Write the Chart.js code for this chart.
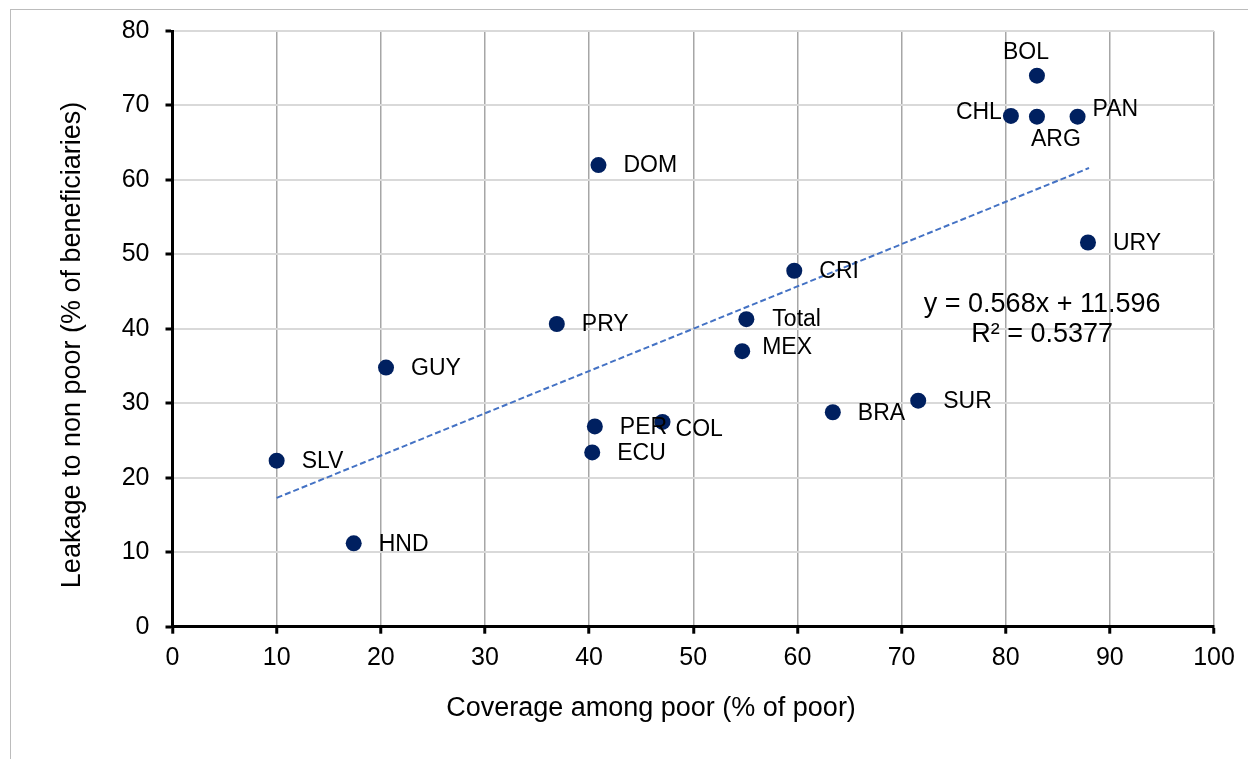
<!DOCTYPE html>
<html lang="en">
<head>
<meta charset="UTF-8">
<title>Coverage vs leakage</title>
<script src="https://cdn.jsdelivr.net/npm/chart.js"></script>
<style>
    html, body {
        margin: 0;
        padding: 0;
        background: #fff;
        overflow: hidden;
    }
    .frame {
        position: absolute;
        left: 10px;
        top: 9px;
        width: 1300px;
        height: 800px;
        border: 1.5px solid #bcbcbc;
    }
    .chart-box {
        position: absolute;
        left: 0;
        top: 0;
        width: 1248px;
        height: 759px;
    }
</style>
</head>
<body>
<div class="frame"></div>
<div class="chart-box">
    <canvas id="scatterChart" width="1248" height="759"></canvas>
</div>

<script>
    // data
    const countries = ['SLV', 'HND', 'GUY', 'PRY', 'DOM', 'PER', 'ECU', 'COL', 'MEX', 'Total',
                       'CRI', 'BRA', 'SUR', 'URY', 'CHL', 'ARG', 'PAN', 'BOL'];
    const coverage  = [10.0, 17.4, 20.5, 36.9, 40.9, 40.55, 40.3, 47.05, 54.7, 55.1,
                       59.7, 63.4, 71.6, 87.9, 80.5, 83.0, 86.9, 83.0];
    const leakage   = [22.3, 11.2, 34.8, 40.65, 62.0, 26.9, 23.4, 27.5, 37.0, 41.3,
                       47.8, 28.8, 30.35, 51.6, 68.6, 68.5, 68.5, 74.0];

    // linear trend, as drawn (end points)
    const trendX = [10, 88];
    const trendY = [17.3, 61.6];
    const trendText = ['y = 0.568x + 11.596', 'R² = 0.5377'];

    const xTickValues = [0, 10, 20, 30, 40, 50, 60, 70, 80, 90, 100];
    const yTickValues = [0, 10, 20, 30, 40, 50, 60, 70, 80];

    const xTitle = 'Coverage among poor (% of poor)';
    const yTitle = 'Leakage to non poor (% of beneficiaries)';

    // label placement next to each dot (pixels)
    const labelPlace = {
        _default: { dx: 25, dy: 1, align: 'left' },
        COL:   { dx: 13, dy: 8, align: 'left' },
        MEX:   { dx: 20, dy: -4, align: 'left' },
        Total: { dx: 26, dy: 0, align: 'left' },
        CHL:   { dx: -9, dy: -3, align: 'right' },
        ARG:   { dx: 19, dy: 23, align: 'center' },
        PAN:   { dx: 15, dy: -7, align: 'left' },
        BOL:   { dx: -11, dy: -23, align: 'center' }
    };

    const FONT = '"Liberation Sans", Arial, sans-serif';
    Chart.defaults.font.family = FONT;
    Chart.defaults.color = '#000';

    const labelsPlugin = {
        id: 'pointLabels',
        afterDatasetsDraw(chart) {
            const ctx = chart.ctx;
            const meta = chart.getDatasetMeta(0);
            ctx.save();
            ctx.fillStyle = '#000';
            ctx.font = '23px ' + FONT;
            ctx.textBaseline = 'middle';
            meta.data.forEach((pt, i) => {
                const name = countries[i];
                const p = labelPlace[name] || labelPlace._default;
                ctx.textAlign = p.align;
                ctx.fillText(name, pt.x + p.dx, pt.y + p.dy);
            });

            // trend equation
            const xs = chart.scales.x, ys = chart.scales.y;
            ctx.font = '27px ' + FONT;
            ctx.textAlign = 'center';
            ctx.fillText(trendText[0], xs.getPixelForValue(83.5), ys.getPixelForValue(43.2));
            ctx.fillText(trendText[1], xs.getPixelForValue(83.5), ys.getPixelForValue(39.2));

            // axis titles
            ctx.font = '27px ' + FONT;
            ctx.fillText(xTitle, 651, 709);
            ctx.translate(73, 345);
            ctx.rotate(-Math.PI / 2);
            ctx.fillText(yTitle, 0, 0);
            ctx.restore();
        }
    };

    const ctx = document.getElementById('scatterChart').getContext('2d');

    new Chart(ctx, {
        type: 'scatter',
        data: {
            datasets: [{
                label: 'Countries',
                data: countries.map((c, i) => ({ x: coverage[i], y: leakage[i] })),
                backgroundColor: '#002060',
                borderColor: '#002060',
                borderWidth: 0,
                pointRadius: 8,
                pointHoverRadius: 8
            }, {
                type: 'line',
                label: 'Trend',
                data: trendX.map((x, i) => ({ x: x, y: trendY[i] })),
                borderColor: '#4472C4',
                borderWidth: 2,
                borderDash: [6, 3],
                pointRadius: 0,
                fill: false
            }]
        },
        options: {
            responsive: false,
            animation: false,
            devicePixelRatio: 1,
            layout: { padding: { left: 0, top: 31, right: 34, bottom: 0 } },
            plugins: {
                legend: { display: false },
                tooltip: { enabled: false }
            },
            scales: {
                x: {
                    type: 'linear',
                    position: 'bottom',
                    min: 0,
                    max: 100,
                    afterBuildTicks: (s) => { s.ticks = xTickValues.map(v => ({ value: v })); },
                    ticks: { font: { size: 25 }, padding: 9, color: '#000' },
                    grid: { color: '#a6a6a6', lineWidth: 1.5, tickColor: '#000', tickWidth: 3, tickLength: 7 },
                    border: { color: '#000', width: 3 },
                    afterFit: (s) => { s.height = 132.3; }
                },
                y: {
                    min: 0,
                    max: 80,
                    afterBuildTicks: (s) => { s.ticks = yTickValues.map(v => ({ value: v })); },
                    ticks: { font: { size: 25 }, padding: 16, color: '#000' },
                    grid: { color: '#d9d9d9', lineWidth: 2, tickColor: '#000', tickWidth: 3, tickLength: 7 },
                    border: { color: '#000', width: 3 },
                    afterFit: (s) => { s.width = 172.5; }
                }
            }
        },
        plugins: [labelsPlugin]
    });
</script>
</body>
</html>
